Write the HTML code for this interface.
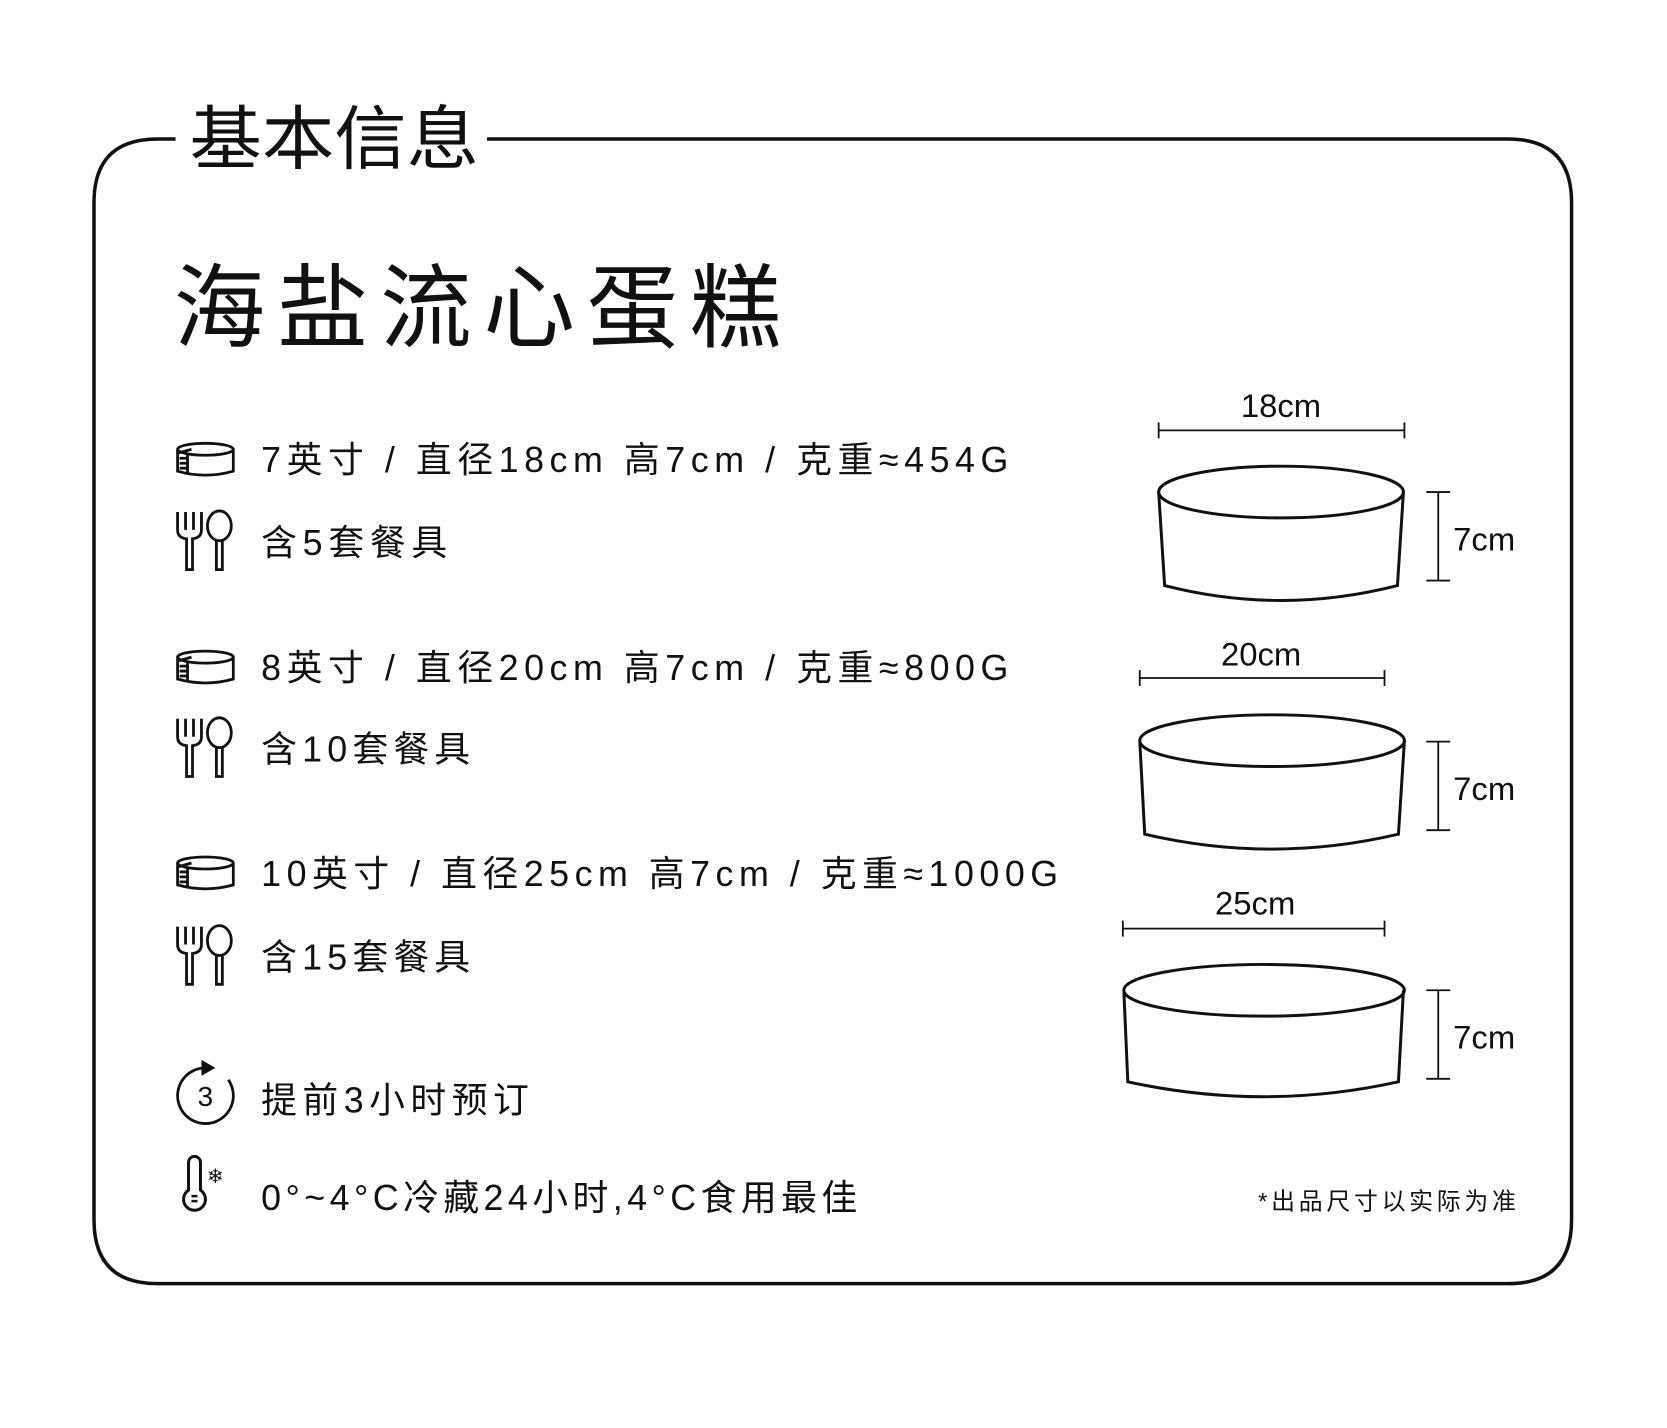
<!DOCTYPE html>
<html><head><meta charset="utf-8"><style>
html,body{margin:0;padding:0;background:#fff;}
svg{display:block}
text{font-family:"Liberation Sans","Noto Sans CJK SC",sans-serif;fill:#111;}
</style></head><body>
<svg width="1667" height="1428" viewBox="0 0 1667 1428" xmlns="http://www.w3.org/2000/svg">
<g transform="translate(94,139) scale(0.995,0.9945) translate(-94,-139)">
<g fill="none" stroke="#111" stroke-width="3.5">
<path d="M176 139 L158 139 Q94 139 94 203 L94 1226 Q94 1290 158 1290 L1515 1290 Q1579 1290 1579 1226 L1579 203 Q1579 139 1515 139 L489 139"/>
</g>
<text x="190" y="139" font-size="70" dominant-baseline="central" textLength="291" lengthAdjust="spacingAndGlyphs">基本信息</text>
<text x="174" y="310" font-size="92" dominant-baseline="central" textLength="611" lengthAdjust="spacing">海盐流心蛋糕</text>

<g font-size="36" dominant-baseline="central">
<text x="262" y="462" textLength="751" lengthAdjust="spacing">7英寸 / 直径18cm 高7cm / 克重≈454G</text>
<text x="262" y="545" textLength="187" lengthAdjust="spacing">含5套餐具</text>
<text x="262" y="671" textLength="751" lengthAdjust="spacing">8英寸 / 直径20cm 高7cm / 克重≈800G</text>
<text x="262" y="753" textLength="210" lengthAdjust="spacing">含10套餐具</text>
<text x="262" y="878" textLength="801" lengthAdjust="spacing">10英寸 / 直径25cm 高7cm / 克重≈1000G</text>
<text x="262" y="962" textLength="210" lengthAdjust="spacing">含15套餐具</text>
<text x="262" y="1106" textLength="269" lengthAdjust="spacing">提前3小时预订</text>
<text x="262" y="1204" textLength="599" lengthAdjust="spacing">0°~4°C冷藏24小时,4°C食用最佳</text>
</g>
<text x="1264" y="1208" font-size="24" dominant-baseline="central" textLength="259" lengthAdjust="spacing">*出品尺寸以实际为准</text>

<defs>
<g id="cake" fill="none" stroke="#111" stroke-width="2.8">
<ellipse cx="32" cy="8" rx="28" ry="6"/>
<path d="M4 8 L4 30 Q32 38 60 30 L60 8"/>
<path d="M4 12 L18 8 M6 17 L14 17 M6 22 L14 22 M6 27 L14 27 M14 12 L14 32"/>
</g>
<g id="utensil" fill="none" stroke="#111" stroke-width="2.8">
<path d="M3 2 L3 20 Q3 28 12 29 L12 60 L18 60 L18 29 Q27 28 27 20 L27 2 M11 2 L11 20 M19 2 L19 20"/>
<ellipse cx="45" cy="16" rx="12" ry="15"/>
<path d="M42 31 L42 60 L48 60 L48 31"/>
</g>
</defs>
<use href="#cake" x="174" y="443"/>
<use href="#utensil" x="175" y="512"/>
<use href="#cake" x="174" y="652"/>
<use href="#utensil" x="175" y="720"/>
<use href="#cake" x="174" y="859"/>
<use href="#utensil" x="175" y="929"/>

<g fill="none" stroke="#111" stroke-width="2.8">
<path d="M206 1073 A28 28 0 1 0 229 1085"/>
<path d="M189 1168 L189 1196 A11 11 0 1 0 201 1196 L201 1168 A6 6 0 0 0 189 1168 Z" stroke-width="3"/>
<path d="M192 1202 L198 1202 M192 1207 L198 1207" stroke-width="2.5"/>
</g>
<path d="M202 1065 L216 1073 L202 1081 Z" fill="#111"/>
<text x="206" y="1102" font-size="28" text-anchor="middle" dominant-baseline="central">3</text>
<text x="216" y="1183" font-size="20" text-anchor="middle" dominant-baseline="central">❄</text>

<g fill="none" stroke="#111" stroke-width="3">
<ellipse cx="1287" cy="494" rx="123" ry="26"/>
<path d="M1164 494 L1170 588 Q1287 618 1404 588 L1410 494"/>
<ellipse cx="1278" cy="744" rx="133" ry="26"/>
<path d="M1145 744 L1150 838 Q1278 868 1405 838 L1411 744"/>
<ellipse cx="1270" cy="995" rx="141" ry="26"/>
<path d="M1129 995 L1133 1087 Q1270 1117 1405 1087 L1410 995"/>
</g>
<g fill="none" stroke="#111" stroke-width="1.8">
<path d="M1164 432 L1411 432 M1164 424 L1164 440 M1411 424 L1411 440"/>
<path d="M1445 494 L1445 583 M1433 494 L1457 494 M1433 583 L1457 583"/>
<path d="M1145 681 L1391 681 M1145 673 L1145 689 M1391 673 L1391 689"/>
<path d="M1445 745 L1445 834 M1433 745 L1457 745 M1433 834 L1457 834"/>
<path d="M1128 933 L1391 933 M1128 925 L1128 941 M1391 925 L1391 941"/>
<path d="M1445 995 L1445 1084 M1433 995 L1457 995 M1433 1084 L1457 1084"/>
</g>
<g font-size="33" dominant-baseline="central">
<text x="1287" y="407" text-anchor="middle">18cm</text>
<text x="1267" y="657" text-anchor="middle">20cm</text>
<text x="1261" y="907" text-anchor="middle">25cm</text>
<text x="1460" y="541">7cm</text>
<text x="1460" y="792">7cm</text>
<text x="1460" y="1042">7cm</text>
</g>
</g>
</svg>
</body></html>
